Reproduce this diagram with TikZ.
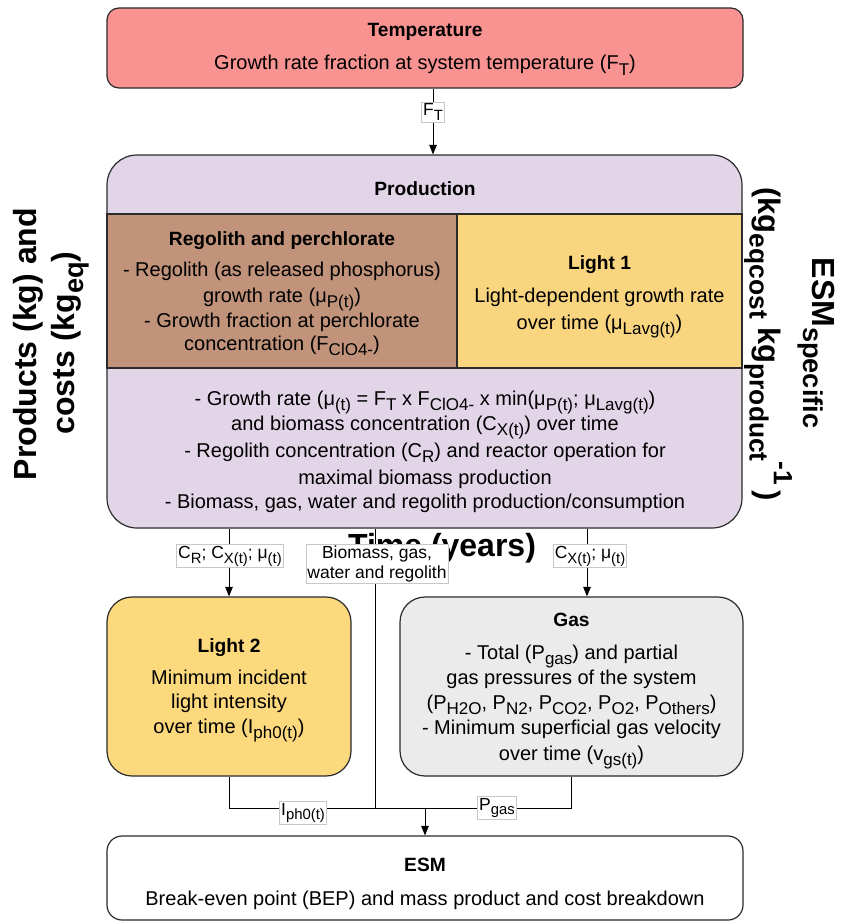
\documentclass[tikz,border=0pt]{standalone}
\usepackage{fontspec}
\setmainfont{Liberation Sans}
\usepackage{graphicx}
\usetikzlibrary{arrows.meta}
\definecolor{tempc}{HTML}{F99392}
\definecolor{prodc}{HTML}{E1D5E7}
\definecolor{regc}{HTML}{C0937A}
\definecolor{lightc}{HTML}{F9D580}
\definecolor{lighttwo}{HTML}{FDD97E}
\definecolor{gasc}{HTML}{EBEBEB}
\definecolor{edgec}{HTML}{2B2B2B}
\newcommand\dn[1]{\raisebox{-0.28em}{\scalebox{0.85}{#1}}}
\newcommand\upr[1]{\raisebox{0.5em}{\scalebox{0.85}{#1}}}
\begin{document}
\begin{tikzpicture}[x=1pt,y=-1pt]
\tikzset{
 box/.style={draw=edgec, line width=1.2pt, inner sep=0pt},
 ln/.style={anchor=base, inner sep=0pt, font=\fontsize{20}{23}\selectfont},
 hd/.style={anchor=base, inner sep=0pt, font=\fontsize{19.2}{22}\selectfont\bfseries},
 lab/.style={fill=white, draw=black!22, line width=0.6pt, inner sep=1.5pt, font=\fontsize{17.5}{20}\selectfont, align=center},
 arr/.style={-{Triangle[length=9.5pt,width=7.5pt]}, line width=1pt, draw=black},
 con/.style={line width=1pt, draw=black},
 big/.style={font=\fontsize{32}{36}\selectfont\bfseries, inner sep=0pt},
}
\useasboundingbox (0,0) rectangle (846,923);
\fill[white] (0,0) rectangle (846,923);

% background texts
\node[big] (time) at (442,548) {Time (years)};
\node[big, rotate=90] (yl1) at (28,344) {Products (kg) and};
\node[big, rotate=90] (yl2) at (70,343) {costs (kg\dn{eq})};
\node[big, rotate=-90] (yr1) at (816,343) {ESM\dn{specific}};
\node[big, rotate=-90, font=\fontsize{31}{36}\selectfont\bfseries] (yr2) at (768,344) {(kg\dn{eqcost} kg\dn{product}\upr{-1}\,)};

% boxes
\node[box, fill=tempc, rounded corners=12pt, minimum width=636pt, minimum height=80pt] (temp) at (425,48) {};
\node[box, fill=prodc, rounded corners=30pt, minimum width=635pt, minimum height=373pt] (prod) at (424.5,341.5) {};
\node[box, fill=regc, minimum width=350pt, minimum height=154pt] (reg) at (282,291) {};
\node[box, fill=lightc, minimum width=285pt, minimum height=154pt] (lone) at (599.5,291) {};
\node[box, fill=lighttwo, rounded corners=25pt, minimum width=244pt, minimum height=179pt] (ltwo) at (229,686.5) {};
\node[box, fill=gasc, rounded corners=25pt, minimum width=343pt, minimum height=179pt] (gas) at (571.5,686.5) {};
\node[box, fill=white, rounded corners=15pt, minimum width=636pt, minimum height=84pt] (esm) at (425,878) {};

% texts
\node[hd] (t1) at (425,37) {Temperature};
\node[ln] (t2) at (425,70) {Growth rate fraction at system temperature (F\dn{T})};
\node[hd] (p0) at (425,195) {Production};
\node[hd] (r0) at (282,245) {Regolith and perchlorate};
\node[ln] (r1) at (282,276) {- Regolith (as released phosphorus)};
\node[ln] (r2) at (282,302) {growth rate (μ\dn{P(t)})};
\node[ln] (r3) at (282,327) {- Growth fraction at perchlorate};
\node[ln] (r4) at (282,350) {concentration (F\dn{ClO4-})};
\node[hd] (l0) at (599.5,269) {Light 1};
\node[ln] (l1) at (599.5,302) {Light-dependent growth rate};
\node[ln] (l2) at (599.5,329) {over time (μ\dn{Lavg(t)})};
\node[ln] (p1) at (425,405) {- Growth rate (μ\dn{(t)} = F\dn{T} x F\dn{ClO4-} x min(μ\dn{P(t)}; μ\dn{Lavg(t)})};
\node[ln] (p2) at (425,430) {and biomass concentration (C\dn{X(t)}) over time};
\node[ln] (p3) at (425,457) {- Regolith concentration (C\dn{R}) and reactor operation for};
\node[ln] (p4) at (425,484) {maximal biomass production};
\node[ln] (p5) at (425,508) {- Biomass, gas, water and regolith production/consumption};
\node[hd] (m0) at (229,652) {Light 2};
\node[ln] (m1) at (229,684) {Minimum incident};
\node[ln] (m2) at (229,708) {light intensity};
\node[ln] (m3) at (229,733) {over time (I\dn{ph0(t)})};
\node[hd] (g0) at (571.5,626) {Gas};
\node[ln] (g1) at (571.5,659) {- Total (P\dn{gas}) and partial};
\node[ln] (g2) at (571.5,684) {gas pressures of the system};
\node[ln] (g3) at (571.5,709) {(P\dn{H2O}, P\dn{N2}, P\dn{CO2}, P\dn{O2}, P\dn{Others})};
\node[ln] (g4) at (571.5,734) {- Minimum superficial gas velocity};
\node[ln] (g5) at (571.5,760) {over time (v\dn{gs(t)})};
\node[hd] (e0) at (425,871) {ESM};
\node[ln] (e1) at (425,905) {Break-even point (BEP) and mass product and cost breakdown};

% connectors
\coordinate (cft) at (433,0);
\coordinate (cmid) at (375,0);
\coordinate (cgas) at (587,0);
\coordinate (j) at (425,808);
\draw[arr] (temp.south -| cft) -- (prod.north -| cft);
\draw[arr] (prod.south -| ltwo.north) -- (ltwo.north);
\draw[arr] (prod.south -| cgas) -- (gas.north -| cgas);
\draw[con] (prod.south -| cmid) -- (j -| cmid);
\draw[con] (ltwo.south) |- (j);
\draw[con] (gas.south) |- (j);
\draw[arr] (j) -- (esm.north);

% labels
\node[lab] (lft) at (433,112) {F\dn{T}};
\node[lab] (lcr) at (230,556) {C\dn{R}; C\dn{X(t)}; μ\dn{(t)}};
\node[lab] (lbio) at (377,564) {Biomass, gas,\\water and regolith};
\node[lab] (lcx) at (590,556) {C\dn{X(t)}; μ\dn{(t)}};
\node[lab] (liph) at (303,813) {I\dn{ph0(t)}};
\node[lab] (lpg) at (497,808) {P\dn{gas}};
\end{tikzpicture}
\end{document}
